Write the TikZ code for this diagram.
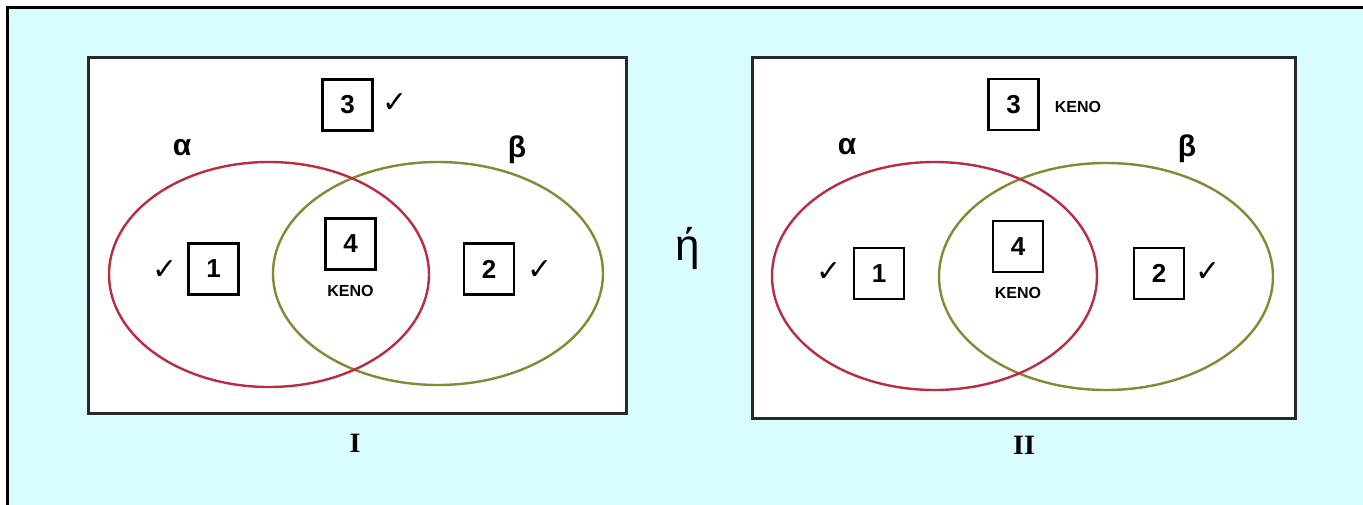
\documentclass[tikz,border=0pt]{standalone}
\usepackage{fontspec}
\setmainfont{Liberation Sans}
\newfontfamily\dejavu{DejaVu Sans}
\newfontfamily\serifrm{Liberation Serif}
\definecolor{bgcyan}{RGB}{216,252,255}
\definecolor{redline}{RGB}{185,45,65}
\definecolor{greenline}{RGB}{135,135,55}
\definecolor{boxline}{RGB}{40,40,40}
\begin{document}
\begin{tikzpicture}[x=1pt,y=-1pt,
  panel/.style={draw=boxline, fill=white, line width=3pt},
  numbox/.style={draw=black, line width=2.6pt, fill=white, minimum width=50pt, minimum height=51pt, inner sep=0pt, font=\fontsize{26}{26}\selectfont\bfseries},
  chk/.style={inner sep=0pt, font=\dejavu\fontsize{30}{30}\selectfont},
  keno/.style={inner sep=0pt, font=\fontsize{16}{16}\selectfont\bfseries},
  setlbl/.style={inner sep=0pt, font=\fontsize{30}{30}\selectfont\bfseries},
  roman/.style={inner sep=0pt, font=\serifrm\fontsize{28}{28}\selectfont\bfseries},
  redell/.style={draw=redline, line width=2.4pt},
  greenell/.style={draw=greenline, line width=2.4pt}]
\useasboundingbox (0,0) rectangle (1363,505);
\fill[white] (0,0) rectangle (1363,505);
\fill[bgcyan] (7,8) rectangle (1363,505);
\draw[line width=3pt] (7.5,505) -- (7.5,8) -- (1363,8);

% ---------- Panel I ----------
\draw[panel] (88,58) rectangle (626,413);
\draw[greenell] (438,273.5) ellipse [x radius=165pt, y radius=111.5pt];
\draw[redell] (269,274.5) ellipse [x radius=160pt, y radius=112.5pt];
\node[setlbl] (a1) at (182,148) {α};
\node[setlbl] (b1) at (517,150) {β};
\node[numbox] (n3a) at (347.5,105) {3};
\node[chk] (c3a) at (395,103) {✓};
\node[numbox] (n1a) at (213.5,269) {1};
\node[chk] (c1a) at (165,270) {✓};
\node[numbox] (n4a) at (350.5,244) {4};
\node[keno] (k4a) at (350.5,291) {ΚΕΝΟ};
\node[numbox] (n2a) at (489,269) {2};
\node[chk] (c2a) at (540,270) {✓};
\node[roman] (r1) at (355,443) {I};

% ---------- or ----------
\node[inner sep=0pt, font=\fontsize{44}{44}\selectfont] (eta) at (688,248) {ή};

% ---------- Panel II ----------
\draw[panel] (752,58) rectangle (1295,418);
\draw[greenell] (1106,276.5) ellipse [x radius=167pt, y radius=113.5pt];
\draw[redell] (934.5,276) ellipse [x radius=162.5pt, y radius=114pt];
\node[setlbl] (a2) at (847,147) {α};
\node[setlbl] (b2) at (1187,149) {β};
\node[numbox] (n3b) at (1013.5,104.5) {3};
\node[keno] (k3b) at (1078,107) {ΚΕΝΟ};
\node[numbox] (n1b) at (879,273.5) {1};
\node[chk] (c1b) at (829,272) {✓};
\node[numbox] (n4b) at (1018,246.5) {4};
\node[keno] (k4b) at (1018,293) {ΚΕΝΟ};
\node[numbox] (n2b) at (1159,273.5) {2};
\node[chk] (c2b) at (1208,272) {✓};
\node[roman] (r2) at (1024,445) {II};
\end{tikzpicture}
\end{document}
